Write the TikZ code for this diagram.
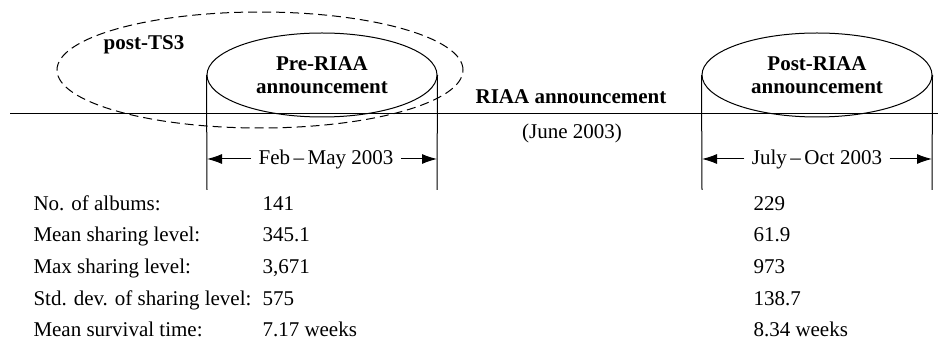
\documentclass[tikz,border=0pt]{standalone}
\usepackage{fontspec}
\setmainfont{Liberation Serif}
\usetikzlibrary{shapes.geometric,arrows.meta}
\tikzset{
  period/.style={draw, ellipse, minimum width=115pt, minimum height=42pt, inner sep=0pt, align=center, font=\bfseries},
  span/.style={-{Latex[length=7.5pt,width=5pt]}},
  row/.style={anchor=base west, inner sep=0pt},
}
\begin{document}
\fontsize{10.5}{11.5}\selectfont
\begin{tikzpicture}[x=0.5pt,y=-0.5pt,line width=0.5pt]
  \useasboundingbox (0,0) rectangle (938,341);
  % time axis
  \coordinate (axisL) at (10,114);
  \coordinate (axisR) at (938,114);
  \draw (axisL) -- (axisR);
  % the post-TS3 window
  \node[draw, ellipse, dash pattern=on 4.5pt off 2.5pt, minimum width=203pt, minimum height=58pt] (ts3) at (260,70) {};
  \node[font=\bfseries] (ts3lbl) at (144,45) {post-TS3};
  % the two periods
  \node[period] (pre) at (322,75) {Pre-RIAA\\announcement};
  \node[period] (post) at (817,75) {Post-RIAA\\announcement};
  \coordinate (preL) at (207,190);
  \coordinate (preR) at (437,190);
  \coordinate (postL) at (702,190);
  \coordinate (postR) at (932,190);
  \draw (pre.west) -- (preL);
  \draw (pre.east) -- (preR);
  \draw (post.west) -- (postL);
  \draw (post.east) -- (postR);
  \node[font=\bfseries] (riaa) at (571,97) {RIAA announcement};
  \node (june) at (572,133) {(June 2003)};
  % spans
  \node (febmay) at (326,159) {Feb\,–\,May 2003};
  \node (julyoct) at (817,159) {July\,–\,Oct 2003};
  \draw[span] (febmay.west) -- (febmay.west -| preL);
  \draw[span] (febmay.east) -- (febmay.east -| preR);
  \draw[span] (julyoct.west) -- (julyoct.west -| postL);
  \draw[span] (julyoct.east) -- (julyoct.east -| postR);
  % statistics
  \foreach \lbl/\vpre/\vpost [count=\i] in {No. of albums:/141/229, Mean sharing level:/345.1/61.9, Max sharing level:/{3,671}/973, Std. dev. of sharing level:/575/138.7, Mean survival time:/7.17 weeks/8.34 weeks}
  {
    \node[row] (lbl\i) at (33,{178.5+31.7*\i}) {\lbl};
    \node[row] (pre\i) at (262,{178.5+31.7*\i}) {\vpre};
    \node[row] (post\i) at (753,{178.5+31.7*\i}) {\vpost};
  }
\end{tikzpicture}
\end{document}
